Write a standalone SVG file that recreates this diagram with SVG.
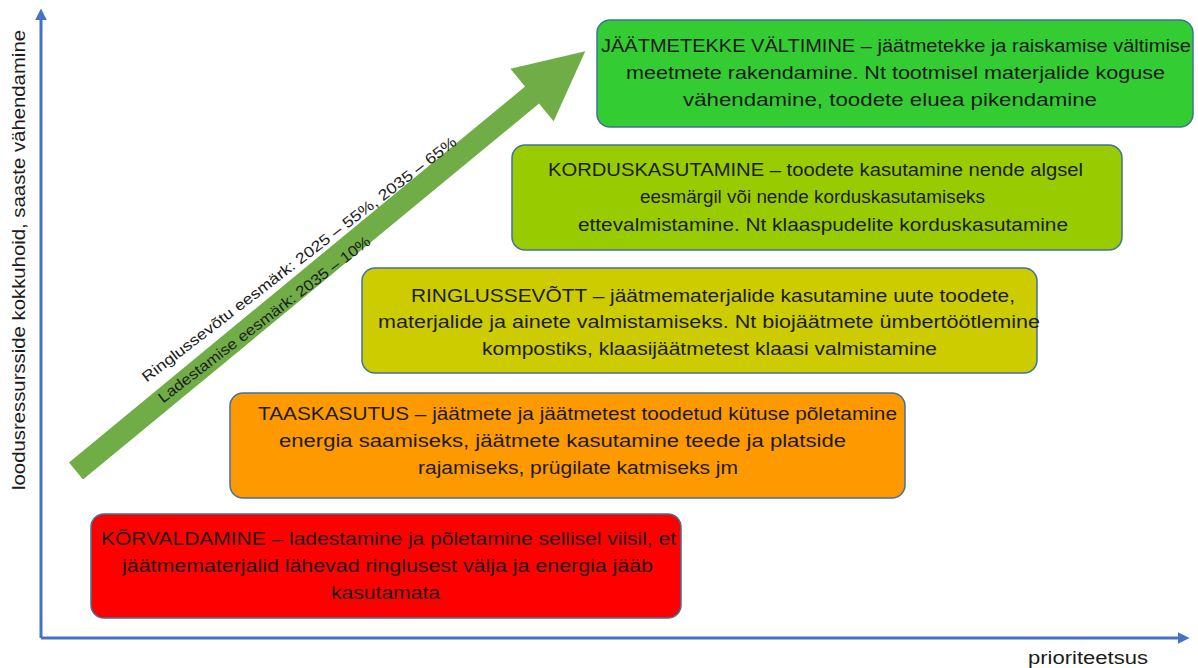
<svg xmlns="http://www.w3.org/2000/svg" width="1198" height="668" viewBox="0 0 1198 668">
<style>
.box{stroke:#41719C;stroke-width:1.5}
.t{font-family:"Liberation Sans",Arial,sans-serif;font-size:17.5px;fill:#1c1c1c}
.a{font-family:"Liberation Sans",Arial,sans-serif;font-size:15px;fill:#1c1c1c}
.ax{stroke:#4472C4;stroke-width:3;fill:none}
</style>
<defs>
<marker id="ah" viewBox="0 0 10 10" refX="2" refY="5" markerWidth="4" markerHeight="4" orient="auto" markerUnits="strokeWidth">
<path d="M0,0 L10,5 L0,10 z" fill="#4472C4"/>
</marker>
</defs>
<rect width="1198" height="668" fill="#ffffff"/>
<g id="connectors">
<path class="ax" d="M41,638 L41,18" marker-end="url(#ah)"/>
<path class="ax" d="M41,638 L1180,638" marker-end="url(#ah)"/>
<g id="green-arrow" transform="translate(76,471) rotate(-39.5)">
<polygon points="0,-11 591,-11 591,-34 660,0 591,34 591,11 0,11" fill="#70AD47"/>
</g>
<text class="a" transform="translate(299,259) rotate(-37.5)" text-anchor="middle" dominant-baseline="central" textLength="392" lengthAdjust="spacingAndGlyphs">Ringlussevõtu eesmärk: 2025 – 55%, 2035 – 65%</text>
<text class="a" transform="translate(264,319) rotate(-37.5)" text-anchor="middle" dominant-baseline="central" textLength="263" lengthAdjust="spacingAndGlyphs">Ladestamise eesmärk: 2035 – 10%</text>
</g>
<text class="t" transform="translate(25,260) rotate(-90)" text-anchor="middle" textLength="460" lengthAdjust="spacingAndGlyphs">loodusressursside kokkuhoid, saaste vähendamine</text>
<text class="t" x="1028" y="664" textLength="120" lengthAdjust="spacingAndGlyphs">prioriteetsus</text>
<g id="n1">
<rect class="box" x="597" y="20" width="596" height="107" rx="13" fill="#33CC33"/>
<text class="t" x="601" y="52" textLength="590" lengthAdjust="spacingAndGlyphs">JÄÄTMETEKKE VÄLTIMINE – jäätmetekke ja raiskamise vältimise</text>
<text class="t" x="626" y="79" textLength="539" lengthAdjust="spacingAndGlyphs">meetmete rakendamine. Nt tootmisel materjalide koguse</text>
<text class="t" x="683" y="106" textLength="414" lengthAdjust="spacingAndGlyphs">vähendamine, toodete eluea pikendamine</text>
</g>
<g id="n2">
<rect class="box" x="512" y="145" width="610" height="105" rx="13" fill="#99CC00"/>
<text class="t" x="548" y="176" textLength="535" lengthAdjust="spacingAndGlyphs">KORDUSKASUTAMINE  – toodete kasutamine nende algsel</text>
<text class="t" x="640" y="203" textLength="345" lengthAdjust="spacingAndGlyphs">eesmärgil või nende korduskasutamiseks</text>
<text class="t" x="578" y="231" textLength="490" lengthAdjust="spacingAndGlyphs">ettevalmistamine. Nt klaaspudelite korduskasutamine</text>
</g>
<g id="n3">
<rect class="box" x="362" y="268" width="675" height="105" rx="13" fill="#CCCC00"/>
<text class="t" x="411" y="302" textLength="604" lengthAdjust="spacingAndGlyphs">RINGLUSSEVÕTT – jäätmematerjalide kasutamine uute toodete,</text>
<text class="t" x="378" y="328" textLength="662" lengthAdjust="spacingAndGlyphs">materjalide ja ainete valmistamiseks. Nt biojäätmete ümbertöötlemine</text>
<text class="t" x="482" y="355" textLength="455" lengthAdjust="spacingAndGlyphs">kompostiks, klaasijäätmetest klaasi valmistamine</text>
</g>
<g id="n4">
<rect class="box" x="230" y="393" width="675" height="105" rx="13" fill="#FF9900"/>
<text class="t" x="258" y="420" textLength="639" lengthAdjust="spacingAndGlyphs">TAASKASUTUS – jäätmete ja jäätmetest toodetud kütuse põletamine</text>
<text class="t" x="279" y="447" textLength="567" lengthAdjust="spacingAndGlyphs">energia saamiseks, jäätmete kasutamine teede ja platside</text>
<text class="t" x="418" y="474" textLength="320" lengthAdjust="spacingAndGlyphs">rajamiseks, prügilate katmiseks jm</text>
</g>
<g id="n5">
<rect class="box" x="91" y="514" width="590" height="104" rx="13" fill="#FF0000"/>
<text class="t" x="101" y="545" textLength="575" lengthAdjust="spacingAndGlyphs">KÕRVALDAMINE – ladestamine ja põletamine sellisel viisil, et</text>
<text class="t" x="122" y="572" textLength="531" lengthAdjust="spacingAndGlyphs">jäätmematerjalid lähevad ringlusest välja ja energia jääb</text>
<text class="t" x="331" y="599" textLength="109" lengthAdjust="spacingAndGlyphs">kasutamata</text>
</g>
</svg>
